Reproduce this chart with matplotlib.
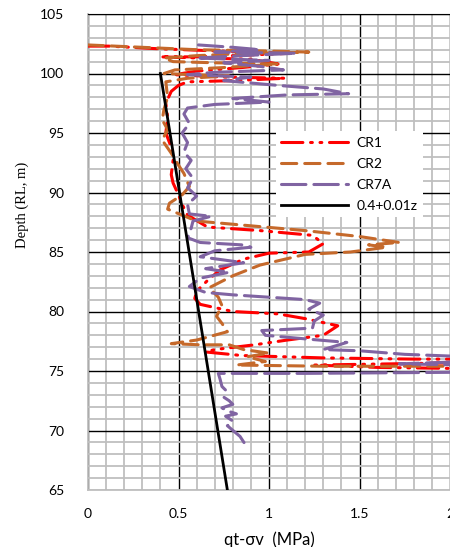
import numpy as np
import matplotlib.pyplot as plt
from matplotlib.ticker import MultipleLocator

# CR1 (qt-sv MPa, RL m)
cr1_q = [0.00, 0.12, 0.36, 0.70, 0.95, 1.12, 0.80, 0.58, 0.40, 0.62, 0.90, 1.05, 0.85,
         0.60, 0.48, 0.75, 1.09, 0.80, 0.55, 0.50, 0.46, 0.43, 0.44, 0.43, 0.46, 0.47,
         0.46, 0.47, 0.50, 0.52, 0.55, 0.66, 0.95, 1.24, 1.30, 1.22, 1.00, 0.86, 0.73,
         0.66, 0.60, 0.59, 0.62, 0.80, 1.05, 1.20, 1.38, 1.30, 1.10, 0.92, 0.70, 0.65,
         0.85, 1.30, 1.80, 2.10, 2.10, 1.25, 1.60, 2.10]
cr1_rl = [102.3, 102.3, 102.1, 101.9, 101.8, 101.7, 101.5, 101.4, 101.4, 101.3, 101.2, 100.8, 100.5,
          100.2, 99.9, 99.7, 99.6, 99.4, 99.3, 99.0, 98.5, 97.5, 96.3, 95.0, 93.8, 92.7,
          91.5, 90.8, 89.8, 89.0, 88.1, 87.1, 86.8, 86.4, 85.7, 85.0, 84.9, 84.4, 83.5,
          82.6, 81.7, 81.1, 80.6, 80.0, 79.8, 79.4, 78.8, 78.0, 77.6, 77.2, 76.8, 76.6,
          76.3, 76.1, 76.0, 76.0, 75.7, 75.5, 75.3, 75.2]

# CR2
cr2_q = [0.00, 0.30, 0.60, 0.95, 1.22, 0.90, 0.60, 0.42, 0.47, 0.70, 1.05, 0.75, 0.48,
         0.42, 0.58, 0.78, 0.55, 0.43, 0.44, 0.42, 0.41, 0.44, 0.41, 0.46, 0.50, 0.53,
         0.56, 0.52, 0.45, 0.44, 0.52, 0.60, 0.90, 1.20, 1.50, 1.72, 1.55, 1.65, 1.45,
         1.20, 0.95, 0.80, 0.67, 0.72, 0.74, 0.71, 0.74, 0.77, 0.60, 0.46, 0.62, 0.78,
         0.86, 1.00, 0.88, 0.98, 0.82, 1.30, 1.80, 2.10]
cr2_rl = [102.4, 102.2, 102.0, 101.9, 101.8, 101.7, 101.5, 101.3, 101.0, 100.9, 100.8, 100.5, 100.3,
          100.0, 99.9, 99.8, 99.6, 99.3, 98.0, 97.0, 96.1, 95.3, 94.4, 93.3, 92.3, 91.6,
          90.5, 89.8, 89.1, 88.6, 88.1, 87.6, 87.2, 86.8, 86.3, 85.8, 85.6, 85.4, 85.0,
          84.8, 83.9, 83.0, 82.0, 81.2, 80.5, 79.6, 79.0, 78.3, 77.6, 77.3, 77.2, 77.2,
          76.8, 76.5, 76.2, 75.8, 75.5, 75.4, 75.4, 75.4]

# CR7A
cr7a_q = [0.61, 0.80, 0.95, 0.70, 1.15, 0.85, 0.60, 1.00, 0.75, 0.95, 1.08, 0.70, 0.55,
          0.90, 0.75, 1.05, 1.30, 1.44, 1.10, 0.80, 1.00, 0.70, 0.55, 0.53, 0.56, 0.52,
          0.55, 0.53, 0.57, 0.54, 0.58, 0.55, 0.60, 0.55, 0.56, 0.68, 0.58, 0.57, 0.55,
          0.62, 0.85, 0.90, 0.70, 0.62, 0.86, 0.65, 0.78, 0.62, 0.56, 0.65, 0.80, 1.00,
          1.20, 1.28, 1.22, 1.30, 1.25, 1.24, 0.96, 0.98, 1.20, 1.43, 1.30, 1.50, 1.75,
          2.10, 2.10, 1.72, 2.10, 2.10, 1.20, 0.72, 0.73, 0.74, 0.76, 0.75, 0.78, 0.80,
          0.74, 0.78, 0.82, 0.76, 0.80, 0.77, 0.84, 0.87]
cr7a_rl = [102.4, 102.2, 102.0, 101.8, 101.7, 101.5, 101.3, 101.1, 100.9, 100.6, 100.3, 100.1, 99.9,
           99.7, 99.4, 99.0, 98.7, 98.3, 98.2, 97.9, 97.6, 97.4, 97.1, 96.6, 95.8, 95.0,
           94.2, 93.4, 92.7, 92.0, 91.2, 90.4, 89.7, 89.0, 88.2, 88.0, 87.6, 87.0, 86.2,
           85.8, 85.6, 85.4, 85.1, 84.6, 84.1, 83.6, 83.3, 82.8, 82.1, 81.6, 81.4, 81.2,
           81.0, 80.7, 80.2, 79.7, 79.2, 78.6, 78.4, 78.0, 77.7, 77.4, 76.8, 76.7, 76.4,
           76.2, 75.8, 75.6, 75.5, 74.9, 74.8, 74.8, 74.3, 73.7, 73.4, 72.8, 72.5, 72.2,
           71.9, 71.6, 71.4, 71.2, 70.8, 70.4, 69.5, 68.8]

# trend line 0.4+0.01z
fit_q = [0.40, 0.77]
fit_rl = [100, 65]

xticks = [0, 0.5, 1, 1.5, 2]
xticklabels = ['0', '0.5', '1', '1.5', '2']
yticks = [65, 70, 75, 80, 85, 90, 95, 100, 105]

plt.rcParams['font.family'] = ['Lato', 'DejaVu Sans']

fig = plt.figure(figsize=(4.5, 5.47), dpi=100)
ax = fig.add_axes([88/450, 57/547, 362/450, 476/547])

ax.plot(cr1_q, cr1_rl, color='#FF0000', lw=2.2, linestyle=(0, (7, 2.5, 0.6, 2.5, 0.6, 2.5)),
        dash_capstyle='round', label='CR1', zorder=3)
ax.plot(cr2_q, cr2_rl, color='#C5692B', lw=2.2, linestyle=(0, (5, 2.6)),
        dash_capstyle='round', label='CR2', zorder=3)
ax.plot(cr7a_q, cr7a_rl, color='#8064A2', lw=2.2, linestyle=(0, (8, 2.6)),
        dash_capstyle='round', label='CR7A', zorder=3)
ax.plot(fit_q, fit_rl, color='black', lw=2.0, label='0.4+0.01z', zorder=4)

ax.set_xlim(0, 2)
ax.set_ylim(65, 105)
ax.set_xticks(xticks)
ax.set_xticklabels(xticklabels)
ax.set_yticks(yticks)
ax.xaxis.set_minor_locator(MultipleLocator(0.1))
ax.yaxis.set_minor_locator(MultipleLocator(1))
ax.set_axisbelow(True)
ax.grid(which='minor', color='#BFBFBF', lw=1.3)
ax.grid(which='major', color='black', lw=1.0)
ax.tick_params(which='both', length=0)
ax.tick_params(axis='x', pad=13, labelsize=10)
ax.tick_params(axis='y', pad=17, labelsize=10)

ax.spines['right'].set_visible(False)
ax.spines['left'].set_color('#BFBFBF')
ax.spines['bottom'].set_color('#BFBFBF')
ax.spines['left'].set_linewidth(1.3)
ax.spines['bottom'].set_linewidth(1.3)
ax.spines['top'].set_color('black')

ax.set_xlabel('qt-σv  (MPa)', fontsize=12, labelpad=8)
fig.text(22/450, 1 - 205/547, 'Depth (RL, m)', rotation=90, fontsize=10.5,
         family='Liberation Serif', ha='center', va='center')

leg = ax.legend(loc='upper left', bbox_to_anchor=(0.519, 0.754), borderaxespad=0,
                fontsize=10, handlelength=4.8, handletextpad=0.6, labelspacing=0.65,
                frameon=True, fancybox=False, edgecolor='none', facecolor='white',
                framealpha=1)

plt.savefig('out.png', dpi=100)
